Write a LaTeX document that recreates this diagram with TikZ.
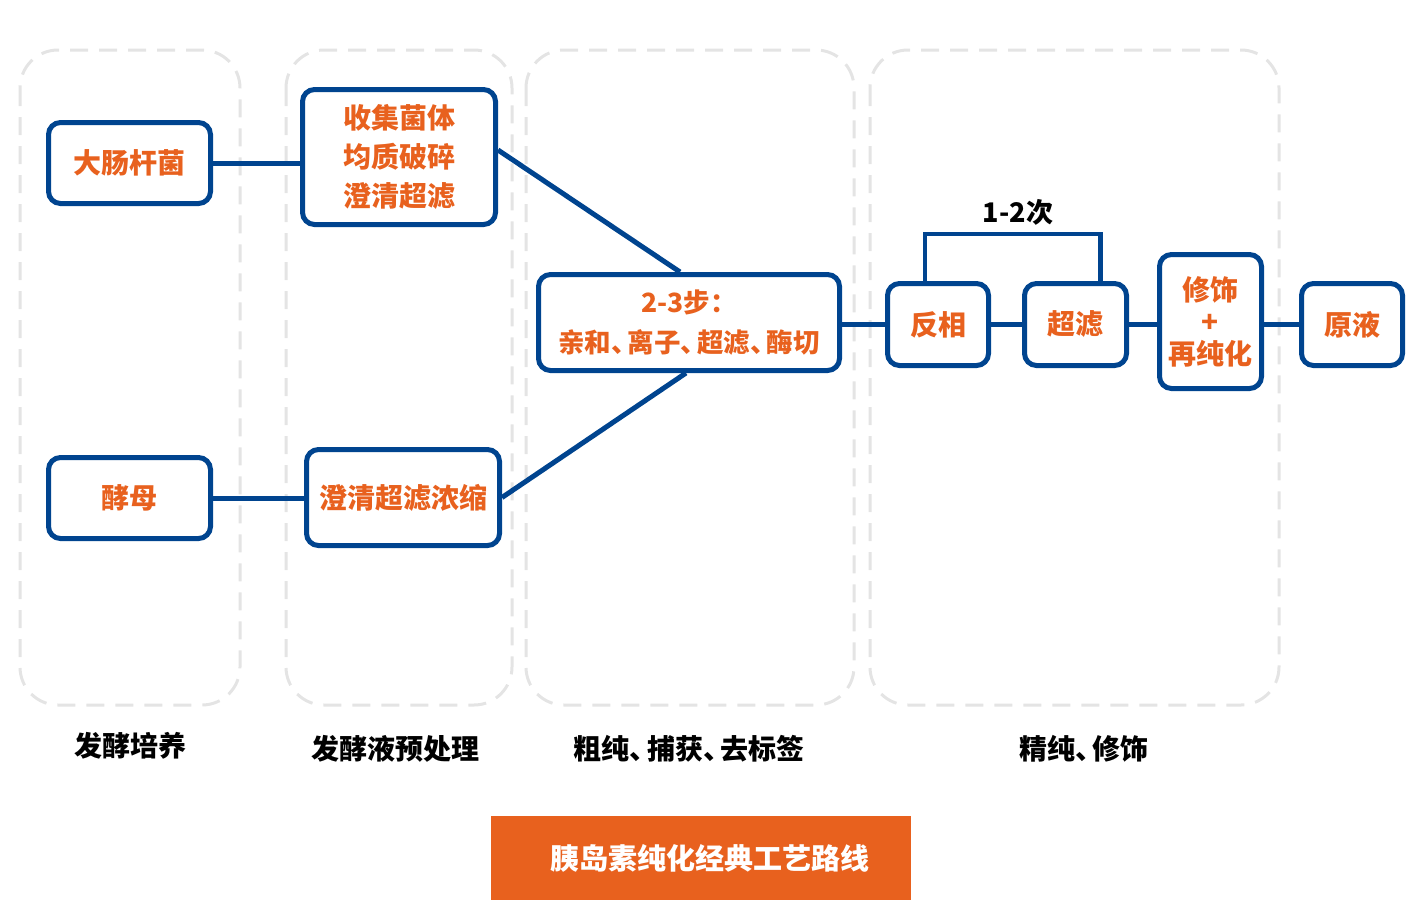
\documentclass[tikz,border=0pt]{standalone}
\usepackage{fontspec}
\setmainfont{Noto Sans CJK SC}
\usetikzlibrary{positioning}
\definecolor{routeblue}{HTML}{00448F}
\definecolor{routeorange}{HTML}{E8611E}
\definecolor{panelgray}{HTML}{E4E4E4}
\newcommand{\dunhao}{\makebox[0.62em][l]{、}}

\begin{document}
\begin{tikzpicture}[
    x=1pt, y=-1pt,
    font=\fontsize{28pt}{39pt}\selectfont\bfseries,
    stepbox/.style={
        draw=routeblue,
        fill=white,
        line width=5pt,
        rounded corners=12pt,
        align=center,
        inner sep=0pt,
        text=routeorange
    },
    stagepanel/.style={draw=panelgray, line width=3pt, dash pattern=on 18pt off 11pt, rounded corners=38pt},
    stagelabel/.style={text=black},
    titlebar/.style={fill=routeorange, text=white, inner sep=0pt, minimum width=420pt, minimum height=84pt},
    link/.style={draw=routeblue, line width=5pt}
]
\useasboundingbox (0,0) rectangle (1424,900);
% stage panels
\draw[stagepanel] (20,50) rectangle (240,705);
\draw[stagepanel] (286,50) rectangle (512,705);
\draw[stagepanel] (526,50) rectangle (854,705);
\draw[stagepanel] (870,50) rectangle (1279,705);
% process steps
\node[stepbox, minimum width=162pt, minimum height=81pt] (ecoli) at (129.5,163) {大肠杆菌};
\node[stepbox, minimum width=193pt, minimum height=135pt] (collect) at (399,157) {收集菌体\\均质破碎\\澄清超滤};
\node[stepbox, minimum width=162pt, minimum height=81pt] (yeast) at (129.5,498) {酵母};
\node[stepbox, minimum width=193pt, minimum height=96pt] (clarify) at (403,497.5) {澄清超滤浓缩};
\node[stepbox, minimum width=301pt, minimum height=96pt, font=\fontsize{26.5pt}{40pt}\selectfont\bfseries] (capture) at (689,322.5)
    {2-3步：\\亲和\dunhao 离子\dunhao 超滤\dunhao 酶切};
\node[stepbox, minimum width=101pt, minimum height=82pt] (rp) at (938,324.5) {反相};
\node[stepbox, minimum width=102pt, minimum height=82pt] (uf) at (1075.5,324.5) {超滤};
\node[stepbox, minimum width=102pt, minimum height=134pt] (modify) at (1210.5,321.5) {修饰\\[-7pt]+\\[-7pt]再纯化};
\node[stepbox, minimum width=101pt, minimum height=82pt] (bulk) at (1352,324.5) {原液};
% connectors
\draw[link] (ecoli) -- (ecoli -| collect.west);
\draw[link] (yeast) -- (yeast -| clarify.west);
\draw[link] ([yshift=7pt]collect.east) -- ([xshift=-9pt]capture.north);
\draw[link] (clarify.east) -- ([xshift=-3pt]capture.south);
\draw[link] (capture.east |- rp) -- (rp);
\draw[link] (rp) -- (uf);
\draw[link] (uf) -- (uf -| modify.west);
\draw[link] (uf -| modify.east) -- (bulk);
\coordinate (looptop) at (1012,234);
\draw[link, line width=4.5pt] ([xshift=-13pt]rp.north) |- (looptop) -| ([xshift=25pt]uf.north);
\node[stagelabel, font=\fontsize{27pt}{30pt}\selectfont\bfseries] (repeat) at (1018,212) {1-2次};
% stage names
\node[stagelabel] (culture) at (130,746) {发酵培养};
\node[stagelabel] (pretreat) at (395,749) {发酵液预处理};
\node[stagelabel] (crude) at (689,749) {粗纯\dunhao 捕获\dunhao 去标签};
\node[stagelabel] (polish) at (1084,749) {精纯\dunhao 修饰};
\node[titlebar, font=\fontsize{29pt}{34pt}\selectfont\bfseries] (title) at (701,858) {\hspace*{18pt}\raisebox{-4pt}{胰岛素纯化经典工艺路线}};
\end{tikzpicture}
\end{document}
